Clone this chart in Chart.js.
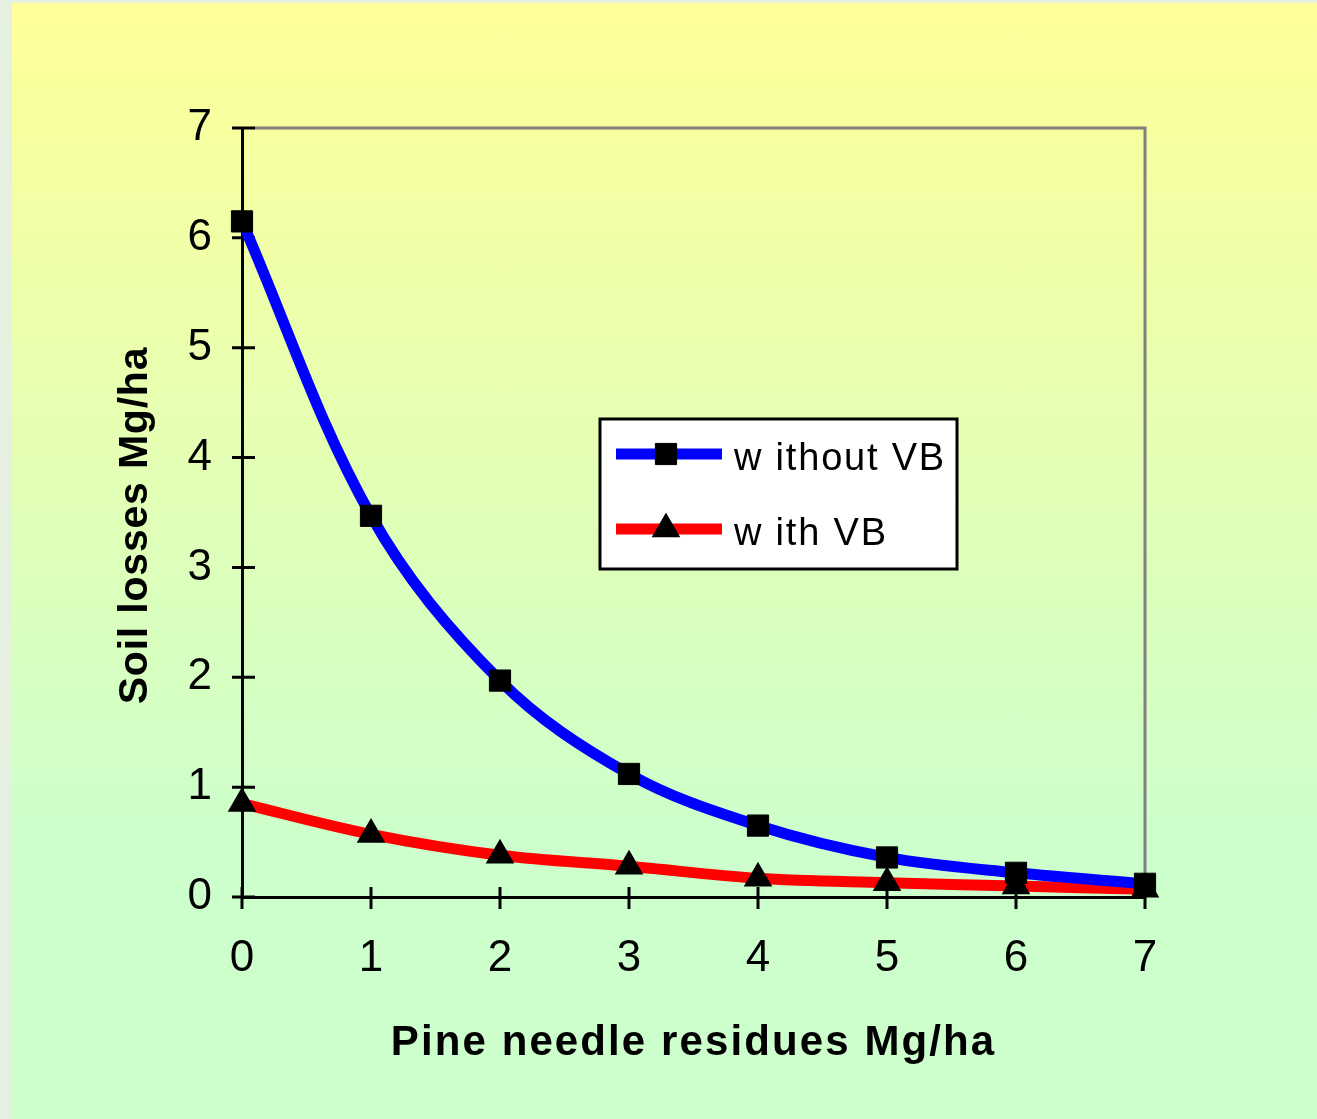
<!DOCTYPE html>
<html>
<head>
<meta charset="utf-8">
<script src="https://cdn.jsdelivr.net/npm/chart.js@4.4.1/dist/chart.umd.min.js"></script>
<style>
  html, body { margin: 0; padding: 0; }
  body { width: 1317px; height: 1119px; background: #e6f0e0; position: relative; overflow: hidden; }
  #panel {
    position: absolute; left: 12px; top: 3px; right: 0; bottom: 0;
    background: linear-gradient(to bottom, #ffff99 0%, #ccffcc 76%, #ccffcc 100%);
  }
  #soil-chart { position: absolute; left: 0; top: 0; }
</style>
</head>
<body>
<div id="panel"></div>
<canvas id="soil-chart" width="1317" height="1119"></canvas>
<script>
// residues Mg/ha on the x axis
const residues = ['0', '1', '2', '3', '4', '5', '6', '7'];
const yTicks = [0, 1, 2, 3, 4, 5, 6, 7];

// soil losses Mg/ha
const withoutVB = [6.15, 3.47, 1.97, 1.12, 0.65, 0.36, 0.22, 0.12];
const withVB = [0.85, 0.57, 0.38, 0.28, 0.17, 0.13, 0.10, 0.07];

const seriesNames = ['w ithout VB', 'w ith VB'];

const fontFamily = "'Liberation Sans', Arial, sans-serif";

// wraps the scale title so it is drawn with some letter spacing (and a small nudge)
function spacedTitle(scale, spacing, dx, dy) {
    if (scale._spacedTitle) return;
    const orig = scale.drawTitle;
    scale.drawTitle = function() {
        const ctx = this.ctx;
        ctx.save();
        ctx.letterSpacing = spacing;
        ctx.translate(dx, dy);
        orig.apply(this, arguments);
        ctx.restore();
    };
    scale._spacedTitle = true;
}

// grey frame on top/right and tick marks crossing the axes
const frameAndTicks = {
    id: 'frameAndTicks',
    beforeDatasetsDraw(chart) {
        const ctx = chart.ctx;
        const area = chart.chartArea;
        const xs = chart.scales.x;
        const ys = chart.scales.y;
        ctx.save();
        ctx.lineWidth = 3;
        ctx.strokeStyle = '#808080';
        ctx.beginPath();
        ctx.moveTo(area.left + 12, area.top);
        ctx.lineTo(area.right + 1.5, area.top);
        ctx.moveTo(area.right, area.top);
        ctx.lineTo(area.right, area.bottom);
        ctx.stroke();

        ctx.strokeStyle = '#000000';
        ctx.lineWidth = 3;
        ctx.beginPath();
        yTicks.forEach(function(v) {
            const py = ys.getPixelForValue(v);
            ctx.moveTo(area.left - 10, py);
            ctx.lineTo(area.left + 13, py);
        });
        residues.forEach(function(lab, i) {
            const px = xs.getPixelForValue(i);
            ctx.moveTo(px, area.bottom - 10);
            ctx.lineTo(px, area.bottom + 12);
        });
        ctx.stroke();
        ctx.restore();
    }
};

// boxed legend inside the plot, line + marker + label
const boxLegend = {
    id: 'boxLegend',
    afterDraw(chart) {
        const ctx = chart.ctx;
        const box = {x: 600, y: 419, w: 357, h: 150};
        ctx.save();
        ctx.fillStyle = '#ffffff';
        ctx.fillRect(box.x, box.y, box.w, box.h);
        ctx.lineWidth = 3;
        ctx.strokeStyle = '#000000';
        ctx.strokeRect(box.x, box.y, box.w, box.h);

        const rows = [454, 529];
        chart.data.datasets.forEach(function(ds, i) {
            const ry = rows[i];
            ctx.lineWidth = 11;
            ctx.strokeStyle = ds.borderColor;
            ctx.beginPath();
            ctx.moveTo(616, ry);
            ctx.lineTo(722, ry);
            ctx.stroke();

            ctx.fillStyle = ds.pointBackgroundColor;
            ctx.strokeStyle = ds.pointBorderColor;
            ctx.lineWidth = ds.pointBorderWidth;
            if (Chart.helpers && Chart.helpers.drawPoint) {
                Chart.helpers.drawPoint(ctx, {
                    pointStyle: ds.pointStyle,
                    radius: ds.pointRadius,
                    rotation: 0,
                    borderWidth: ds.pointBorderWidth
                }, 666, ry);
            }

            ctx.fillStyle = '#000000';
            ctx.font = '38px ' + fontFamily;
            ctx.letterSpacing = '1.8px';
            ctx.textBaseline = 'alphabetic';
            ctx.textAlign = 'left';
            ctx.fillText(ds.label, 734, ry + 16);
        });
        ctx.restore();
    }
};

const soil_canvas = document.getElementById('soil-chart').getContext('2d');

const soil_chart = new Chart(
    soil_canvas,
    {
        type: 'line',
        data: {
            labels: residues,
            datasets: [
                {
                    label: seriesNames[0],
                    data: withoutVB,
                    borderColor: '#0000ff',
                    borderWidth: 11,
                    pointStyle: 'rect',
                    pointRadius: 15,
                    pointBackgroundColor: '#000000',
                    pointBorderColor: '#000000',
                    pointBorderWidth: 1,
                    tension: 0.35,
                    clip: false
                },
                {
                    label: seriesNames[1],
                    data: withVB,
                    borderColor: '#ff0000',
                    borderWidth: 11,
                    pointStyle: 'triangle',
                    pointRadius: 15,
                    pointBackgroundColor: '#000000',
                    pointBorderColor: '#000000',
                    pointBorderWidth: 1.5,
                    tension: 0.35,
                    clip: false
                }
            ]
        },
        options: {
            responsive: false,
            animation: false,
            events: [],
            layout: {
                padding: {left: 0, top: 128, right: 172, bottom: 0}
            },
            plugins: {
                legend: {display: false},
                tooltip: {enabled: false}
            },
            scales: {
                x: {
                    type: 'category',
                    offset: false,
                    grid: {display: false, drawTicks: true, tickLength: 10},
                    border: {display: true, color: '#000000', width: 3},
                    ticks: {
                        color: '#000000',
                        padding: 25,
                        maxRotation: 0,
                        font: {family: fontFamily, size: 44}
                    },
                    title: {
                        display: true,
                        text: 'Pine needle residues Mg/ha',
                        color: '#000000',
                        padding: {top: 0, bottom: 50},
                        font: {family: fontFamily, size: 42, weight: 'bold'}
                    },
                    afterFit: function(scale) {
                        scale.height = 222;
                        spacedTitle(scale, '2.1px', 0, 0);
                    }
                },
                y: {
                    min: 0,
                    max: 7,
                    grid: {display: false, drawTicks: true, tickLength: 10},
                    border: {display: true, color: '#000000', width: 3},
                    ticks: {
                        stepSize: 1,
                        color: '#000000',
                        padding: 20,
                        font: {family: fontFamily, size: 44}
                    },
                    title: {
                        display: true,
                        text: 'Soil losses Mg/ha',
                        color: '#000000',
                        padding: {top: 111, bottom: 0},
                        font: {family: fontFamily, size: 41, weight: 'bold'}
                    },
                    afterFit: function(scale) {
                        scale.width = 242;
                        spacedTitle(scale, '0.8px', 0, 13);
                    }
                }
            }
        },
        plugins: [frameAndTicks, boxLegend]
    }
);
</script>
</body>
</html>
